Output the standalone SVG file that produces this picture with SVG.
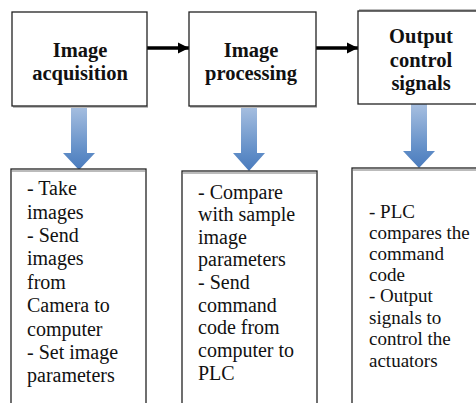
<svg xmlns="http://www.w3.org/2000/svg" width="476" height="403" viewBox="0 0 476 403">
<style>
.box{fill:#fff;stroke:#222;stroke-width:1.3}
.sh{stroke:#bbb;stroke-width:2;fill:none}
.con{stroke:#000;stroke-width:3.5;fill:none}
.blue{fill:url(#bg)}
</style>
<defs>
<linearGradient id="bg" x1="0" y1="0" x2="0" y2="1">
<stop offset="0" stop-color="#a7bfe0"/>
<stop offset="0.75" stop-color="#5d8bc6"/>
<stop offset="1" stop-color="#4a7bbd"/>
</linearGradient>
<marker id="ah" viewBox="0 0 10 10" refX="10" refY="5" markerWidth="3.2" markerHeight="3.2" markerUnits="strokeWidth" orient="auto">
<path d="M0,0 L10,5 L0,10 Z" fill="#000"/>
</marker>
</defs>
<rect width="476" height="403" fill="#fff"/>
<g id="connectors">
<line class="con" x1="147" y1="48" x2="189" y2="48" marker-end="url(#ah)"/>
<line class="con" x1="316" y1="48" x2="358" y2="48" marker-end="url(#ah)"/>
<path class="blue" d="M71,106 H87 V153 H95 L79,170 L63,153 H71 Z"/>
<path class="blue" d="M241,106 H257 V153 H265 L249,171 L233,153 H241 Z"/>
<path class="blue" d="M411,104 H427 V151 H435 L419,168 L403,151 H411 Z"/>
</g>
<g id="n1">
<line class="sh" x1="13" y1="107" x2="148" y2="107"/>
<rect class="box" x="12" y="12" width="135" height="94"/>
<text x="80" y="57" font-family="Liberation Serif" font-weight="bold" font-size="20.5" fill="#111" text-anchor="middle">Image</text>
<text x="80" y="80" font-family="Liberation Serif" font-weight="bold" font-size="20.5" fill="#111" text-anchor="middle">acquisition</text>
</g>
<g id="n2">
<line class="sh" x1="190" y1="107" x2="317" y2="107"/>
<rect class="box" x="189" y="12" width="127" height="94"/>
<text x="251" y="57" font-family="Liberation Serif" font-weight="bold" font-size="20.5" fill="#111" text-anchor="middle">Image</text>
<text x="251" y="80" font-family="Liberation Serif" font-weight="bold" font-size="20.5" fill="#111" text-anchor="middle">processing</text>
</g>
<g id="n3">
<line class="sh" x1="359" y1="10" x2="480" y2="10"/>
<rect class="box" x="358" y="11" width="124" height="93"/>
<text x="421" y="43" font-family="Liberation Serif" font-weight="bold" font-size="20.5" fill="#111" text-anchor="middle">Output</text>
<text x="421" y="67" font-family="Liberation Serif" font-weight="bold" font-size="20.5" fill="#111" text-anchor="middle">control</text>
<text x="421" y="90" font-family="Liberation Serif" font-weight="bold" font-size="20.5" fill="#111" text-anchor="middle">signals</text>
</g>
<g id="n4">
<rect class="box" x="11" y="169" width="135" height="240"/>
<line class="sh" x1="12" y1="171" x2="145" y2="171"/>
<text x="27" y="195" font-family="Liberation Serif" font-size="20" fill="#111">- Take</text>
<text x="27" y="219" font-family="Liberation Serif" font-size="20" fill="#111">images</text>
<text x="27" y="242" font-family="Liberation Serif" font-size="20" fill="#111">- Send</text>
<text x="27" y="265" font-family="Liberation Serif" font-size="20" fill="#111">images</text>
<text x="27" y="289" font-family="Liberation Serif" font-size="20" fill="#111">from</text>
<text x="27" y="312" font-family="Liberation Serif" font-size="20" fill="#111">Camera to</text>
<text x="27" y="336" font-family="Liberation Serif" font-size="20" fill="#111">computer</text>
<text x="27" y="359" font-family="Liberation Serif" font-size="20" fill="#111">- Set image</text>
<text x="27" y="382" font-family="Liberation Serif" font-size="20" fill="#111">parameters</text>
</g>
<g id="n5">
<rect class="box" x="182" y="171" width="135" height="240"/>
<line class="sh" x1="183" y1="173" x2="316" y2="173"/>
<text x="198" y="199" font-family="Liberation Serif" font-size="20" fill="#111">- Compare</text>
<text x="198" y="221" font-family="Liberation Serif" font-size="20" fill="#111">with sample</text>
<text x="198" y="244" font-family="Liberation Serif" font-size="20" fill="#111">image</text>
<text x="198" y="266" font-family="Liberation Serif" font-size="20" fill="#111">parameters</text>
<text x="198" y="289" font-family="Liberation Serif" font-size="20" fill="#111">- Send</text>
<text x="198" y="312" font-family="Liberation Serif" font-size="20" fill="#111">command</text>
<text x="198" y="334" font-family="Liberation Serif" font-size="20" fill="#111">code from</text>
<text x="198" y="357" font-family="Liberation Serif" font-size="20" fill="#111">computer to</text>
<text x="198" y="380" font-family="Liberation Serif" font-size="20" fill="#111">PLC</text>
</g>
<g id="n6">
<rect class="box" x="352" y="168" width="130" height="240"/>
<line class="sh" x1="353" y1="170" x2="480" y2="170"/>
<text x="369" y="218" font-family="Liberation Serif" font-size="19" fill="#111">- PLC</text>
<text x="369" y="239" font-family="Liberation Serif" font-size="19" fill="#111">compares the</text>
<text x="369" y="260" font-family="Liberation Serif" font-size="19" fill="#111">command</text>
<text x="369" y="281" font-family="Liberation Serif" font-size="19" fill="#111">code</text>
<text x="369" y="302" font-family="Liberation Serif" font-size="19" fill="#111">- Output</text>
<text x="369" y="324" font-family="Liberation Serif" font-size="19" fill="#111">signals to</text>
<text x="369" y="345" font-family="Liberation Serif" font-size="19" fill="#111">control the</text>
<text x="369" y="367" font-family="Liberation Serif" font-size="19" fill="#111">actuators</text>
</g>
</svg>
